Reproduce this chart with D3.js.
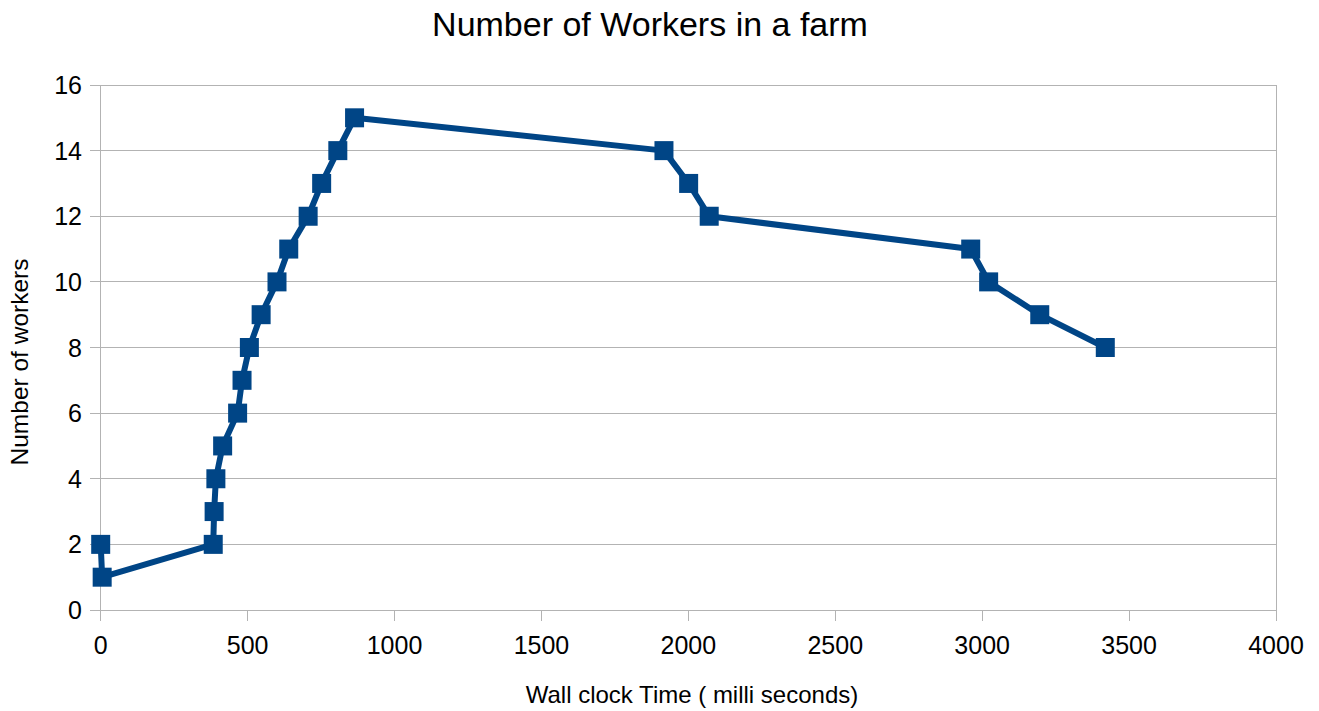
<!DOCTYPE html>
<html>
<head>
<meta charset="utf-8">
<script src="https://cdn.jsdelivr.net/npm/d3@7"></script>
<style>
  html, body { margin: 0; padding: 0; background: #ffffff; }
  svg { display: block; font-family: "Liberation Sans", Arial, sans-serif; }
</style>
</head>
<body>
<svg id="chart" width="1319" height="711"></svg>
<script>
// Wall clock time (ms) at which the worker count changed
const timeMs = [0, 5, 383, 386, 392, 415, 466, 481, 506, 546, 600, 640, 706, 752, 807, 864,
                1917, 2001, 2071, 2961, 3022, 3196, 3419];
// Number of workers in the farm at that moment
const workers = [2, 1, 2, 3, 4, 5, 6, 7, 8, 9, 10, 11, 12, 13, 14, 15,
                 14, 13, 12, 11, 10, 9, 8];
const xTicks = [0, 500, 1000, 1500, 2000, 2500, 3000, 3500, 4000];
const yTicks = [0, 2, 4, 6, 8, 10, 12, 14, 16];

const svg = d3.select("#chart");
const plotLeft = 100.7, plotRight = 1276, plotTop = 85, plotBottom = 610;
const gridColor = "#b3b3b3";
const seriesColor = "#004586";

const x = d3.scaleLinear().domain([0, 4000]).range([plotLeft, plotRight]);
const y = d3.scaleLinear().domain([0, 16]).range([plotBottom, plotTop]);

// Horizontal grid lines, extended left as tick marks
svg.append("g")
  .selectAll("line")
  .data(yTicks)
  .join("line")
  .attr("x1", plotLeft - 11).attr("x2", plotRight)
  .attr("y1", d => y(d)).attr("y2", d => y(d))
  .attr("stroke", gridColor).attr("stroke-width", 1)
  .attr("shape-rendering", "crispEdges");

// Vertical axis line and right border
svg.append("line")
  .attr("x1", plotLeft).attr("x2", plotLeft).attr("y1", plotTop).attr("y2", plotBottom + 11)
  .attr("stroke", gridColor).attr("shape-rendering", "crispEdges");
svg.append("line")
  .attr("x1", plotRight).attr("x2", plotRight).attr("y1", plotTop).attr("y2", plotBottom + 11)
  .attr("stroke", gridColor).attr("shape-rendering", "crispEdges");

// X axis ticks below the plot
svg.append("g")
  .selectAll("line")
  .data(xTicks)
  .join("line")
  .attr("x1", d => x(d)).attr("x2", d => x(d))
  .attr("y1", plotBottom).attr("y2", plotBottom + 11)
  .attr("stroke", gridColor).attr("shape-rendering", "crispEdges");

// Tick labels
svg.append("g")
  .selectAll("text")
  .data(xTicks)
  .join("text")
  .attr("x", d => x(d)).attr("y", 654)
  .attr("text-anchor", "middle")
  .attr("font-size", 25).attr("fill", "#000")
  .text(d => d);

svg.append("g")
  .selectAll("text")
  .data(yTicks)
  .join("text")
  .attr("x", 82).attr("y", d => y(d))
  .attr("dy", "0.36em")
  .attr("text-anchor", "end")
  .attr("font-size", 25).attr("fill", "#000")
  .text(d => d);

// Series line
const line = d3.line().x((d, i) => x(timeMs[i])).y(d => y(d));
svg.append("path")
  .datum(workers)
  .attr("d", line)
  .attr("fill", "none")
  .attr("stroke", seriesColor)
  .attr("stroke-width", 6)
  .attr("stroke-linejoin", "round");

// Square markers
const m = 19;
svg.append("g")
  .selectAll("rect")
  .data(workers)
  .join("rect")
  .attr("x", (d, i) => x(timeMs[i]) - m / 2)
  .attr("y", d => y(d) - m / 2)
  .attr("width", m).attr("height", m)
  .attr("fill", seriesColor);

// Titles
svg.append("text")
  .attr("x", 650).attr("y", 36)
  .attr("text-anchor", "middle")
  .attr("font-size", 34).attr("fill", "#000")
  .text("Number of Workers in a farm");

svg.append("text")
  .attr("x", 692).attr("y", 703)
  .attr("text-anchor", "middle")
  .attr("font-size", 24).attr("fill", "#000")
  .text("Wall clock Time ( milli seconds)");

svg.append("text")
  .attr("transform", "translate(28,362) rotate(-90)")
  .attr("text-anchor", "middle")
  .attr("font-size", 24.5).attr("fill", "#000")
  .text("Number of workers");
</script>
</body>
</html>
